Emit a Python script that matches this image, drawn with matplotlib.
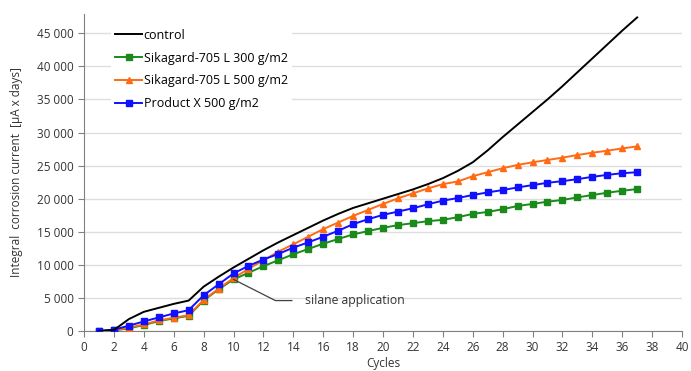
import numpy as np
import matplotlib
matplotlib.use("Agg")
import matplotlib.pyplot as plt
from matplotlib.ticker import FuncFormatter

cycles = list(range(1, 38))

control = [0, 150, 1800, 2900, 3500, 4100, 4600, 6700, 8200, 9600,
           10900, 12200, 13400, 14500, 15600, 16700, 17700, 18600, 19300, 20000,
           20700, 21400, 22200, 23100, 24200, 25500, 27300, 29300, 31200, 33100,
           35000, 37000, 39100, 41200, 43300, 45400, 47400]
sika300 = [0, 100, 400, 900, 1500, 1900, 2300, 4600, 6300, 7800,
           8800, 9800, 10700, 11600, 12400, 13200, 13900, 14600, 15100, 15600,
           16000, 16300, 16600, 16800, 17200, 17700, 18000, 18400, 18900, 19200,
           19550, 19800, 20200, 20550, 20900, 21200, 21450]
sika500 = [0, 100, 500, 1000, 1600, 2000, 2400, 4700, 6400, 8000,
           9400, 10700, 12000, 13100, 14250, 15400, 16400, 17400, 18300, 19200,
           20050, 20800, 21550, 22200, 22600, 23400, 24000, 24600, 25100, 25500,
           25850, 26200, 26600, 26950, 27250, 27600, 27900]
productx = [0, 200, 800, 1450, 2050, 2650, 3150, 5400, 7050, 8700,
            9850, 10800, 11650, 12600, 13400, 14250, 15150, 16150, 16900, 17550,
            18050, 18550, 19150, 19700, 20100, 20550, 20950, 21300, 21700, 22050,
            22400, 22650, 22950, 23300, 23600, 23850, 24000]

labels = ["control", "Sikagard-705 L 300 g/m2", "Sikagard-705 L 500 g/m2", "Product X 500 g/m2"]

plt.rcParams['font.family'] = ['Open Sans', 'DejaVu Sans']

fig = plt.figure(figsize=(6.91, 3.71), dpi=100)
ax = fig.add_axes([0.1216, 0.1078, 0.8654, 0.8542])

ax.plot(cycles, control, color='black', linewidth=1.4, label=labels[0], zorder=5)
ax.plot(cycles, sika300, color='#1a8a1a', linewidth=1.4, marker='s', markersize=4.5, label=labels[1], zorder=3)
ax.plot(cycles, sika500, color='#ff6a13', linewidth=1.4, marker='^', markersize=4.5, label=labels[2], zorder=4)
ax.plot(cycles, productx, color='#1010ff', linewidth=1.4, marker='s', markersize=3.8, label=labels[3], zorder=4)

# silane application leader
ax.plot([10, 12.8, 13.9], [7800, 4600, 4600], color='#404040', linewidth=0.9, zorder=6)
ax.text(14.8, 4600, "silane application", fontsize=8.8, va='center', color='#333333')

ax.set_xlim(0, 40)
ax.set_ylim(0, 47900)
ax.set_xticks(range(0, 41, 2))
ax.set_yticks(range(0, 45001, 5000))
ax.yaxis.set_major_formatter(FuncFormatter(lambda v, p: f"{int(v):,}".replace(",", " ")))
ax.grid(axis='y', color='#dedede', linewidth=1)
ax.set_axisbelow(True)
for s in ['top', 'right']:
    ax.spines[s].set_visible(False)
for s in ['left', 'bottom']:
    ax.spines[s].set_color('#808080')
ax.tick_params(axis='both', direction='out', length=4, color='#808080', labelsize=8.5, labelcolor='#333333')
ax.set_xlabel("Cycles", fontsize=8.5, color='#333333', labelpad=2)
ax.set_ylabel("Integral  corrosion current  [\u00b5A x days]", fontsize=8.5, color='#333333', labelpad=10)

leg = ax.legend(loc='upper left', bbox_to_anchor=(0.035, 0.985), fontsize=9, frameon=True,
                handlelength=2.2, handletextpad=0.1, labelspacing=0.78, borderpad=0.3)
leg.get_frame().set_facecolor('white')
leg.get_frame().set_edgecolor('none')
leg.get_frame().set_alpha(1)

plt.savefig("out.png", dpi=100)
